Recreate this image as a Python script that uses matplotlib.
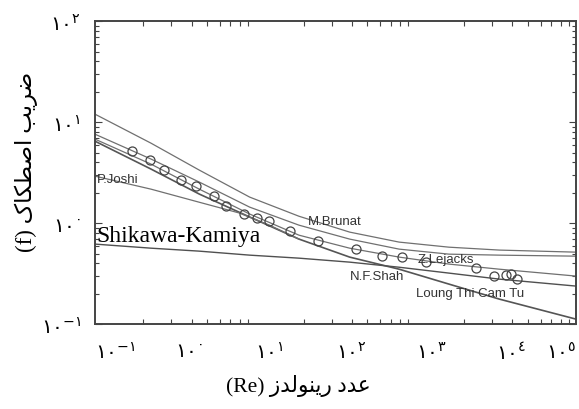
import numpy as np
import matplotlib
matplotlib.use('Agg')
import matplotlib.pyplot as plt

# friction factor vs Reynolds number (log-log)
re_grid = [0.1, 0.5, 2, 8.5, 35, 150, 620, 2600, 1.1e4, 1e5]
f_top = [12.0, 6.19, 3.35, 1.81, 1.17, 0.815, 0.649, 0.578, 0.541, 0.516]
f_brunat = [7.60, 4.31, 2.55, 1.44, 0.955, 0.695, 0.553, 0.493, 0.482, 0.471]
f_lejacks = [6.79, 3.84, 2.17, 1.23, 0.760, 0.565, 0.461, 0.393, 0.350, 0.299]
f_shah = [6.48, 3.43, 1.94, 1.15, 0.695, 0.461, 0.350, 0.249, 0.177, 0.112]
f_shikawa = [0.620, 0.565, 0.528, 0.482, 0.450, 0.411, 0.366, 0.320, 0.279, 0.238]

re_joshi = [0.1, 0.5, 2, 6.3, 15, 35]
f_joshi = [2.92, 2.17, 1.61, 1.26, 0.955, 0.695]

# experimental points
re_exp = [0.288, 0.483, 0.721, 1.17, 1.80, 3.02, 4.26, 7.13, 10.6, 14.6, 27.4,
          61.1, 181, 382, 678, 1346, 5640, 9440, 13300, 15400, 18240]
f_exp = [5.16, 4.20, 3.35, 2.67, 2.32, 1.85, 1.47, 1.23, 1.12, 1.05, 0.833,
         0.664, 0.553, 0.471, 0.461, 0.411, 0.358, 0.299, 0.306, 0.313, 0.279]

x_exponents = [-1, 0, 1, 2, 3, 4, 5]
y_exponents = [-1, 0, 1, 2]

FA_DIGITS = '٠١٢٣٤٥٦٧٨٩'

# presentation forms: isolated, final, initial, medial
FORMS = {
    'ا': ('\uFE8D', '\uFE8E', None, None),
    'ب': ('\uFE8F', '\uFE90', '\uFE91', '\uFE92'),
    'د': ('\uFEA9', '\uFEAA', None, None),
    'ر': ('\uFEAD', '\uFEAE', None, None),
    'ز': ('\uFEAF', '\uFEB0', None, None),
    'ص': ('\uFEB9', '\uFEBA', '\uFEBB', '\uFEBC'),
    'ض': ('\uFEBD', '\uFEBE', '\uFEBF', '\uFEC0'),
    'ط': ('\uFEC1', '\uFEC2', '\uFEC3', '\uFEC4'),
    'ع': ('\uFEC9', '\uFECA', '\uFECB', '\uFECC'),
    'ل': ('\uFEDD', '\uFEDE', '\uFEDF', '\uFEE0'),
    'ن': ('\uFEE5', '\uFEE6', '\uFEE7', '\uFEE8'),
    'و': ('\uFEED', '\uFEEE', None, None),
    'ی': ('\uFBFC', '\uFBFD', '\uFBFE', '\uFBFF'),
    'ک': ('\uFB8E', '\uFB8F', '\uFB90', '\uFB91'),
}


def shape_fa(text):
    """Join Persian letters and return them in visual (left to right) order"""
    out = []
    for i, c in enumerate(text):
        if c not in FORMS:
            out.append(c)
            continue
        prev = text[i - 1] if i > 0 else None
        nxt = text[i + 1] if i + 1 < len(text) else None
        join_prev = prev in FORMS and FORMS[prev][2] is not None
        join_next = nxt in FORMS and FORMS[c][2] is not None
        iso, fin, ini, med = FORMS[c]
        if join_prev and join_next:
            out.append(med)
        elif join_prev:
            out.append(fin)
        elif join_next:
            out.append(ini)
        else:
            out.append(iso)
    return ''.join(out)[::-1]


def fa_num(n):
    return ''.join(FA_DIGITS[int(c)] for c in str(abs(n)))


def pow_label(e):
    exp = ('-' if e < 0 else '') + fa_num(e)
    return r'$\mathregular{%s^{%s}}$' % (fa_num(10), exp)


plt.rcParams['font.family'] = ['DejaVu Sans']
plt.rcParams['mathtext.fontset'] = 'dejavusans'

fig = plt.figure(figsize=(5.79, 4.10), dpi=100)
ax = fig.add_axes([0.164, 0.207, 0.831, 0.739])

line_kw = dict(color='#707070', lw=0.9)
ax.plot(re_grid, f_top, **line_kw)
ax.plot(re_grid, f_brunat, **line_kw)
ax.plot(re_grid, f_lejacks, **line_kw)
ax.plot(re_grid, f_shah, color='#555555', lw=1.2)
ax.plot(re_joshi, f_joshi, **line_kw)
ax.plot(re_grid, f_shikawa, color='#505050', lw=1.0)
ax.plot(re_exp, f_exp, 'o', ms=6.5, mfc='none', mec='#444444', mew=0.9)

ax.set_xscale('log')
ax.set_yscale('log')
ax.set_xlim(0.1, 1e5)
ax.set_ylim(0.1, 100)

# x tick marks in the picture follow a two-decade pattern
x_minor = [10.0 ** (b + 2 * np.log10(k)) for b in (-1, 1, 3) for k in range(1, 11)]
ax.set_xticks([10.0 ** e for e in x_exponents], labels=[pow_label(e) for e in x_exponents])
ax.set_xticks(x_minor, minor=True)
ax.set_xticklabels([], minor=True)
ax.set_yticks([10.0 ** e for e in y_exponents], labels=[pow_label(e) for e in y_exponents])

ax.tick_params(which='both', direction='in', top=True, right=True, colors='#444444',
               labelcolor='black', labelsize=14.5, width=0.8)
ax.tick_params(axis='x', which='major', length=0, pad=12)
ax.tick_params(axis='x', which='minor', length=3.5)
ax.tick_params(axis='y', which='major', length=5, pad=10)
ax.tick_params(axis='y', which='minor', length=3)
xl = ax.get_xticklabels()
for t in xl:
    t.set_ha('left')
xl[-1].set_ha('right')

for s in ax.spines.values():
    s.set_color('#444444')
    s.set_linewidth(1.4)

lab_kw = dict(fontsize=9.5, color='#333333', family='Liberation Sans')
ax.text(0.105, 2.75, 'P.Joshi', ha='left', va='center', **lab_kw)
ax.text(45, 1.05, 'M.Brunat', ha='left', va='center', **lab_kw)
ax.text(1050, 0.44, 'Z.Lejacks', ha='left', va='center', **lab_kw)
ax.text(150, 0.30, 'N.F.Shah', ha='left', va='center', **lab_kw)
ax.text(1000, 0.205, 'Loung Thi Cam Tu', ha='left', va='center', **lab_kw)
ax.text(0.105, 0.75, 'Shikawa-Kamiya', ha='left', va='center',
        fontsize=17, family='Liberation Serif', color='black')

txt_fam = ['Liberation Serif', 'DejaVu Sans']
fig.text(26 / 579, 1 - 162 / 410, '(f) ' + shape_fa('ضریب اصطکاک'), rotation=90,
         ha='center', va='center', fontsize=16.5, family=txt_fam)
fig.text(298 / 579, 1 - 386 / 410, '(Re) ' + shape_fa('عدد رینولدز'),
         ha='center', va='center', fontsize=15.5, family=txt_fam)

plt.savefig('out.png', dpi=100)
